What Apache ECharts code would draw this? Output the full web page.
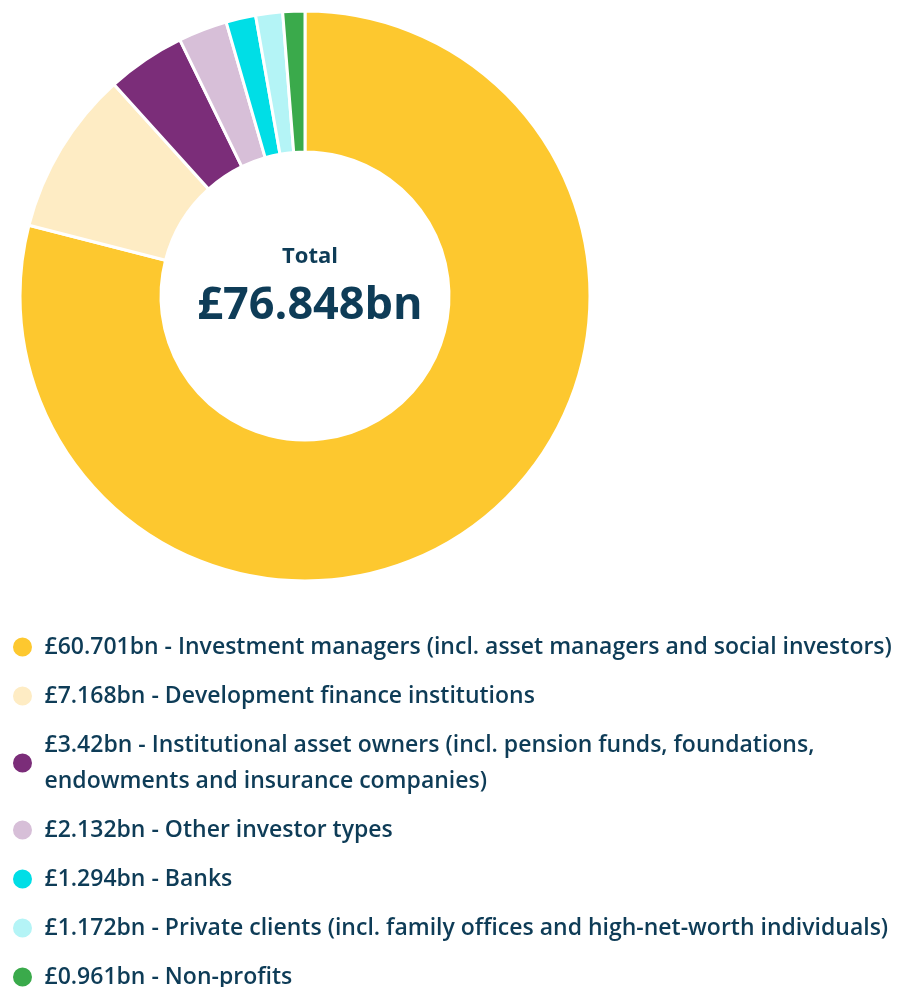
<!DOCTYPE html>
<html>
<head>
<meta charset="utf-8">
<script src="https://cdn.jsdelivr.net/npm/echarts@6/dist/echarts.min.js"></script>
<style>
  html, body { margin: 0; padding: 0; background: #fff; }
  #chart { width: 908px; height: 987px; }
</style>
</head>
<body>
<div id="chart"></div>
<script>
// investor types, amounts in £bn
const categories = [
  'Investment managers (incl. asset managers and social investors)',
  'Development finance institutions',
  'Institutional asset owners (incl. pension funds, foundations, endowments and insurance companies)',
  'Other investor types',
  'Banks',
  'Private clients (incl. family offices and high-net-worth individuals)',
  'Non-profits'
];
const values = [60.701, 7.168, 3.42, 2.132, 1.294, 1.172, 0.961];
const colors = ['#fdc82f', '#feecc4', '#7b2d79', '#d7bfd8', '#00dee6', '#b4f4f6', '#3aaa4b'];

const TEXT = '#0e3c57';
const FONT = '"Open Sans", sans-serif';

const total = values.reduce((a, b) => a + b, 0);
const valueOf = {};
categories.forEach((c, i) => { valueOf[c] = values[i]; });

const chart = echarts.init(document.getElementById('chart'));
chart.setOption({
  animation: false,
  color: colors,
  title: {
    text: 'Total',
    subtext: '£' + total.toFixed(3) + 'bn',
    left: 305,
    top: 241,
    textAlign: 'center',
    itemGap: 16,
    textStyle: { color: TEXT, fontFamily: FONT, fontWeight: 700, fontSize: 22 },
    subtextStyle: { color: TEXT, fontFamily: FONT, fontWeight: 700, fontSize: 45 }
  },
  legend: {
    orient: 'vertical',
    left: 6,
    top: 624,
    height: 380,
    icon: 'circle',
    itemWidth: 34,
    itemHeight: 21,
    itemGap: 13,
    selectedMode: false,
    formatter: name => '£' + valueOf[name] + 'bn - ' + name,
    textStyle: {
      color: TEXT,
      fontFamily: FONT,
      fontWeight: 600,
      fontSize: 23,
      lineHeight: 36,
      width: 865,
      overflow: 'break'
    }
  },
  series: [{
    type: 'pie',
    center: [305, 296],
    radius: [144, 285],
    startAngle: 90,
    clockwise: true,
    label: { show: false },
    labelLine: { show: false },
    emphasis: { disabled: true },
    itemStyle: { borderColor: '#fff', borderWidth: 3 },
    data: categories.map((c, i) => ({ name: c, value: values[i] }))
  }]
});
</script>
</body>
</html>
